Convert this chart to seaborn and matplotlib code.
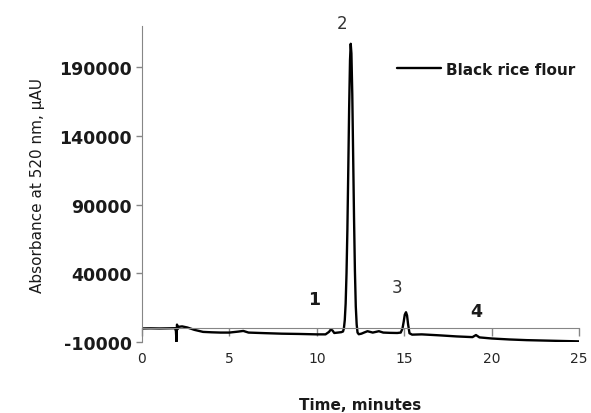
import pandas as pd
import matplotlib
matplotlib.use("Agg")
import matplotlib.pyplot as plt
import seaborn as sns

# chromatogram trace (time in minutes, absorbance in uAU)
time_min = [0.0, 0.5, 1.0, 1.5, 1.9, 1.95, 1.98, 2.01, 2.05, 2.1, 2.3, 2.6, 3.0, 3.5,
            4.0, 4.5, 5.0, 5.5, 5.8, 6.1, 7.0, 8.0, 9.0, 10.0, 10.5, 10.7, 10.8, 10.9,
            11.0, 11.2, 11.4, 11.5, 11.55, 11.6, 11.65, 11.7, 11.75, 11.8, 11.85, 11.9,
            11.94, 11.98, 12.03, 12.08, 12.13, 12.18, 12.23, 12.28, 12.33, 12.4, 12.55,
            12.7, 12.9, 13.2, 13.55, 13.8, 14.2, 14.6, 14.8, 14.9, 14.97, 15.03, 15.1,
            15.16, 15.22, 15.3, 15.45, 16.0, 17.0, 18.0, 18.9, 19.1, 19.3, 20.0, 21.0,
            22.0, 23.0, 24.0, 25.0]
absorbance = [0, 100, 0, 100, 200, -2000, -9500, 2800, -500, 1200, 1500, 700, -1000, -2500,
              -2800, -3000, -3000, -2300, -1800, -3000, -3400, -3800, -4000, -4300, -4300, -2500, -800, -1500,
              -3300, -3000, -2700, -2200, 0, 6000, 18000, 40000, 72000, 115000, 160000, 195000,
              207000, 200000, 170000, 125000, 80000, 42000, 16000, 3000, -3000, -4200, -3800,
              -3000, -2000, -3000, -2000, -3000, -3200, -3300, -3000, 0, 5000, 10000, 11800,
              9500, 3000, -3500, -4500, -4300, -5000, -5800, -6300, -4800, -6500, -7300, -8000,
              -8500, -8800, -9100, -9400]

peak_ids = ["1", "2", "3", "4"]
peak_t = [9.84, 11.43, 14.6, 19.1]
peak_y = [21500, 222000, 30000, 13000]
peak_bold = [True, False, False, True]

y_ticks = [-10000, 40000, 90000, 140000, 190000]
x_ticks = [0, 5, 10, 15, 20, 25]

df = pd.DataFrame({"Time": time_min, "Absorbance": absorbance})

sns.set_style("white")
plt.rcParams["font.family"] = ["DejaVu Sans"]

fig = plt.figure(figsize=(5.91, 4.14), dpi=100)
ax = fig.add_axes([0.240, 0.171, 0.740, 0.764])

sns.lineplot(data=df, x="Time", y="Absorbance", color="black", linewidth=1.7,
             estimator=None, label="Black rice flour", ax=ax)

ax.set_xlim(0, 25)
ax.set_ylim(-10000, 220000)
ax.set_xticks(x_ticks)
ax.set_yticks(y_ticks)
ax.set_xticklabels([str(t) for t in x_ticks], fontsize=11.5, color="#1a1a1a")
ax.set_yticklabels([str(t) for t in y_ticks], fontsize=12.5, fontweight="bold", color="#1a1a1a")

grey = "#868686"
ax.spines["top"].set_visible(False)
ax.spines["right"].set_visible(False)
ax.spines["left"].set_color(grey)
ax.spines["bottom"].set_color(grey)
ax.spines["bottom"].set_position(("data", 0))
ax.tick_params(axis="x", bottom=True, direction="out", length=6, width=1, color=grey, pad=10)
ax.tick_params(axis="y", left=True, direction="out", length=4, width=1, color=grey, pad=3)

ax.set_xlabel("Time, minutes", fontsize=11, fontweight="bold", color="#1a1a1a", labelpad=23)
ax.set_ylabel("Absorbance at 520 nm, \u00b5AU", fontsize=11, color="#1a1a1a", labelpad=10)

for lab, t, y, b in zip(peak_ids, peak_t, peak_y, peak_bold):
    ax.text(t, y, lab, fontsize=12.5 if b else 12, fontweight="bold" if b else "normal",
            color="#1a1a1a" if b else "#333333", ha="center", va="center", clip_on=False)

leg = ax.legend(loc="center right", bbox_to_anchor=(0.991, 0.863), frameon=False,
                handlelength=2.9, handletextpad=0.33, borderaxespad=0, borderpad=0,
                prop={"size": 11, "weight": "bold"})
for t in leg.get_texts():
    t.set_color("#1a1a1a")

fig.savefig("out.png", dpi=100)
